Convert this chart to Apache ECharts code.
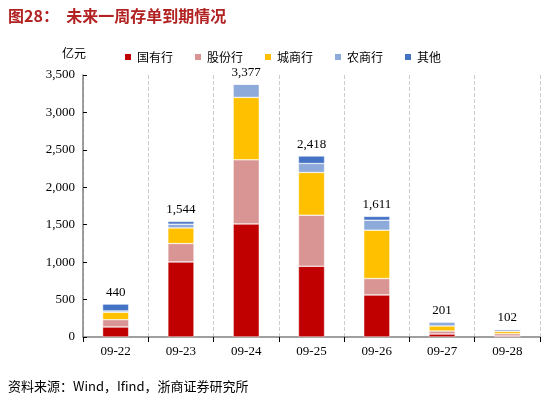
<!DOCTYPE html>
<html><head><meta charset="utf-8">
<script src="https://cdn.jsdelivr.net/npm/echarts@6/dist/echarts.min.js"></script>
<style>body{margin:0}#c{width:548px;height:402px}</style></head>
<body><div id="c"></div>
<script>
var categories = ['09-22','09-23','09-24','09-25','09-26','09-27','09-28'];
var guoyou = [134, 1003, 1511, 945, 562, 40, 13];
var gufen = [98, 246, 856, 682, 219, 40, 32];
var chengshang = [98, 208, 834, 571, 646, 67, 31];
var nongshang = [18, 50, 176, 120, 133, 54, 26];
var qita = [92, 37, 0, 100, 51, 0, 0];
var totals = [440, 1544, 3377, 2418, 1611, 201, 102];

var font = '"Times New Roman","Liberation Serif","Noto Sans CJK SC",serif';
var chart = echarts.init(document.getElementById('c'));
function s(name, data, color) {
    return {name: name, type: 'bar', stack: 't', barWidth: '40%', data: data,
        itemStyle: {color: color, borderColor: '#fff', borderWidth: 0.5}};
}
var series = [
    s('国有行', guoyou, '#C00000'),
    s('股份行', gufen, '#D99594'),
    s('城商行', chengshang, '#FFC000'),
    s('农商行', nongshang, '#8EAADB'),
    s('其他', qita, '#4472C4')
];
series.push({
    type: 'bar', stack: 't', data: totals.map(function () { return 0; }),
    label: {show: true, position: 'top', fontFamily: font, fontSize: 13, color: '#000',
        formatter: function (p) { return totals[p.dataIndex].toLocaleString('en-US'); }},
    itemStyle: {color: 'transparent'}, silent: true
});
chart.setOption({
    animation: false,
    graphic: [
        {type: 'text', left: 8, top: 8, style: {text: '图28：  未来一周存单到期情况', fill: '#B22222', font: 'bold 16px "Noto Sans CJK SC"'}},
        {type: 'text', left: 62, top: 47, style: {text: '亿元', fill: '#000', font: '12px "Noto Sans CJK SC"'}},
        {type: 'text', left: 8, top: 380, style: {text: '资料来源：Wind，Ifind，浙商证券研究所', fill: '#000', font: '13px "Noto Sans CJK SC"'}}
    ],
    legend: {data: ['国有行','股份行','城商行','农商行','其他'], top: 46, left: 118, itemWidth: 8, itemHeight: 8,
        icon: 'rect', itemGap: 20, textStyle: {fontFamily: '"Noto Sans CJK SC"', fontSize: 12, color: '#000'}},
    grid: {left: 83, right: 8, top: 75, bottom: 65},
    xAxis: {type: 'category', data: categories,
        axisLine: {lineStyle: {color: '#808080', width: 1.5}},
        axisTick: {show: true, length: 5, lineStyle: {color: '#000'}},
        axisLabel: {fontFamily: font, fontSize: 13, color: '#000'},
        splitLine: {show: true, lineStyle: {type: 'dashed', color: '#ccc'}}},
    yAxis: {type: 'value', min: 0, max: 3500, interval: 500,
        axisLine: {show: true, lineStyle: {color: '#808080', width: 1.5}},
        axisTick: {show: true, inside: true, length: 4, lineStyle: {color: '#000'}},
        axisLabel: {fontFamily: font, fontSize: 13, color: '#000',
            formatter: function (v) { return v.toLocaleString('en-US'); }},
        splitLine: {show: false}},
    series: series
});
</script></body></html>
